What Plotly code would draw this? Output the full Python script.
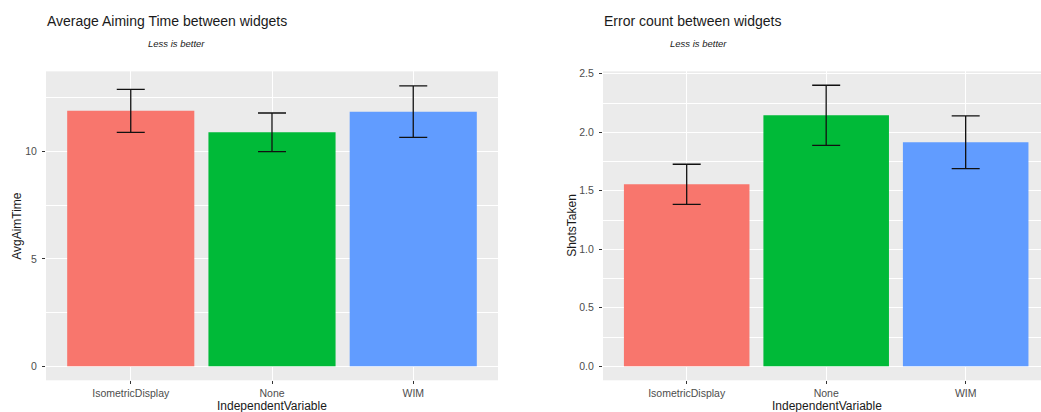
import plotly.graph_objects as go

# data
categories = ["IsometricDisplay", "None", "WIM"]
aim_time = [11.9, 10.9, 11.86]
aim_time_err = [1.0, 0.9, 1.2]
shots_taken = [1.555, 2.145, 1.915]
shots_taken_err = [0.172, 0.257, 0.225]

BAR_COLORS = ["#F8766D", "#00BA38", "#619CFF"]
PANEL_BG = "#EBEBEB"
FONT = "Liberation Sans, Arial, sans-serif"
W, H = 1041, 412


def px_x(x):
    return x / W


def px_y(y):
    return 1 - y / H


fig = go.Figure()

for values, errs, ax in [
    (aim_time, aim_time_err, ""),
    (shots_taken, shots_taken_err, "2"),
]:
    fig.add_trace(
        go.Bar(
            x=categories,
            y=values,
            width=0.9,
            marker=dict(color=BAR_COLORS, line=dict(width=0)),
            error_y=dict(
                type="data",
                array=errs,
                color="#111111",
                thickness=1.3,
                width=14,
            ),
            xaxis="x" + ax,
            yaxis="y" + ax,
            showlegend=False,
        )
    )

common_x = dict(
    type="category",
    showgrid=True,
    gridcolor="white",
    gridwidth=1.3,
    ticks="outside",
    ticklen=3,
    tickcolor="#333333",
    tickfont=dict(family=FONT, size=10.5, color="#4D4D4D"),
    zeroline=False,
    showline=False,
)
common_y = dict(
    showgrid=True,
    gridcolor="white",
    gridwidth=1.3,
    ticks="outside",
    ticklen=3,
    tickcolor="#333333",
    ticklabelstandoff=3,
    tickfont=dict(family=FONT, size=10.5, color="#4D4D4D"),
    zeroline=False,
    showline=False,
)

fig.update_layout(
    width=W,
    height=H,
    margin=dict(l=0, r=0, t=0, b=0),
    paper_bgcolor="white",
    plot_bgcolor=PANEL_BG,
    font=dict(family=FONT),
    xaxis=dict(common_x, domain=[px_x(46), px_x(498)], range=[-0.6, 2.6], anchor="y"),
    yaxis=dict(
        common_y,
        domain=[px_y(380), px_y(68)],
        range=[-0.654, 13.74],
        tickvals=[0, 5, 10],
        minor=dict(dtick=2.5, tick0=0, showgrid=True, gridcolor="white", gridwidth=0.6),
        anchor="x",
    ),
    xaxis2=dict(common_x, domain=[px_x(603), 1.0], range=[-0.6, 2.54], anchor="y2"),
    yaxis2=dict(
        common_y,
        domain=[px_y(380), px_y(68)],
        range=[-0.12, 2.521],
        tickvals=[0, 0.5, 1.0, 1.5, 2.0, 2.5],
        tickformat=".1f",
        minor=dict(dtick=0.25, tick0=0, showgrid=True, gridcolor="white", gridwidth=0.6),
        anchor="x2",
    ),
)

annotations = [
    # titles
    dict(text="Average Aiming Time between widgets", x=px_x(45), y=px_y(17),
         xanchor="left", yanchor="middle", font=dict(size=14, color="#1A1A1A")),
    dict(text="Error count between widgets", x=px_x(602), y=px_y(17),
         xanchor="left", yanchor="middle", font=dict(size=14, color="#1A1A1A")),
    # subtitles
    dict(text="<i>Less is better</i>", x=px_x(176.5), y=px_y(40),
         xanchor="center", yanchor="middle", font=dict(size=9.5, color="#1A1A1A")),
    dict(text="<i>Less is better</i>", x=px_x(698), y=px_y(40),
         xanchor="center", yanchor="middle", font=dict(size=9.5, color="#1A1A1A")),
    # axis titles
    dict(text="IndependentVariable", x=px_x(272), y=px_y(406),
         xanchor="center", yanchor="middle", font=dict(size=12, color="#1A1A1A")),
    dict(text="IndependentVariable", x=px_x(827), y=px_y(406),
         xanchor="center", yanchor="middle", font=dict(size=12, color="#1A1A1A")),
    dict(text="AvgAimTime", x=px_x(17), y=px_y(224), textangle=-90,
         xanchor="center", yanchor="middle", font=dict(size=12, color="#1A1A1A")),
    dict(text="ShotsTaken", x=px_x(572), y=px_y(224), textangle=-90,
         xanchor="center", yanchor="middle", font=dict(size=12, color="#1A1A1A")),
]
for a in annotations:
    a.update(xref="paper", yref="paper", showarrow=False)
fig.update_layout(annotations=annotations)

# drop the page's default body margin so the figure sits at the window's corner
fig.write_html(
    "out.html",
    config={"displayModeBar": False},
    post_script="document.body.style.margin = '0';",
)
